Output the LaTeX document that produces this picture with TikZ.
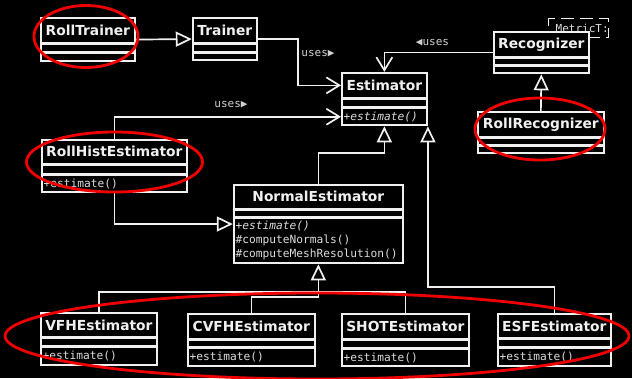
\documentclass[tikz,border=0pt]{standalone}
\usepackage{fontspec}
\setmainfont{DejaVu Sans}
\setmonofont{DejaVu Sans Mono}
\usetikzlibrary{arrows.meta,fit,calc}
\definecolor{fg}{HTML}{F0F0F0}
\definecolor{txt}{HTML}{DCDCDC}
\definecolor{lbl}{HTML}{D0D0D0}
\definecolor{markred}{HTML}{F00000}
\tikzset{
  clsbox/.style={draw=fg, fill=black, line width=1.7pt, inner sep=0pt, text=fg,
    font=\bfseries\fontsize{13.8}{16}\selectfont},
  opstext/.style={inner sep=0pt, text=txt, align=left, anchor=west,
    font=\ttfamily\fontsize{11.2}{14}\selectfont},
  conn/.style={draw=fg, line width=1.7pt},
  inh/.style={conn, -{Triangle[open, length=16pt, width=15pt, line width=1.7pt]}},
  uses/.style={conn, -{Straight Barb[length=13pt, width=16pt, line width=1.7pt]}},
  lab/.style={inner sep=0pt, text=lbl, font=\ttfamily\fontsize{11}{12}\selectfont},
  redmark/.style={draw=markred, line width=2.8pt},
}
% name, x, y, width, header h, attr h, ops h, title, ops text
\newcommand\umlclass[9]{%
  \node[clsbox, minimum width=#4pt, minimum height=#5pt, anchor=north west] (#1-h) at (#2,#3) {#8};
  \node[clsbox, minimum width=#4pt, minimum height=#6pt, anchor=north west] (#1-a) at (#1-h.south west) {};
  \node[clsbox, minimum width=#4pt, minimum height=#7pt, anchor=north west] (#1-o) at (#1-a.south west) {};
  \node[opstext] (#1-t) at ($(#1-o.west)+(2.5,0)$) {#9};
  \node[fit=(#1-h)(#1-o), inner sep=0pt] (#1) {};
}
\begin{document}
\begin{tikzpicture}[x=1pt,y=-1pt]
\useasboundingbox (0,0) rectangle (632,378);
\fill[black] (0,0) rectangle (632,378);

% template box (behind Recognizer)
\node[draw=fg, line width=1.4pt, dash pattern=on 13pt off 6pt, fill=black,
  minimum width=60pt, minimum height=19pt, anchor=north west, inner sep=0pt] (metric) at (548,18) {};
\node[lab, text=txt, anchor=east, font=\ttfamily\fontsize{11}{12}\selectfont] (metrictxt) at ($(metric.east)+(-0.5,0)$) {MetricT:};

\umlclass{rolltrainer}{40}{17}{94}{25}{7}{8}{RollTrainer}{}
\umlclass{trainer}{192}{17}{64}{25}{7}{7}{Trainer}{}
\umlclass{estimator}{341}{72}{85}{25}{7}{17}{Estimator}{\itshape +estimate()}
\umlclass{recognizer}{493}{31}{95}{25}{6}{7}{Recognizer}{}
\umlclass{rollrecog}{477}{111}{126}{25}{6}{7}{RollRecognizer}{}
\umlclass{rollhist}{41}{139}{145}{24}{8}{17}{RollHistEstimator}{+estimate()}
\umlclass{normal}{233}{184}{169}{24}{6}{45}{NormalEstimator}{\textit{+estimate()}\\\#computeNormals()\\\#computeMeshResolution()}
\umlclass{vfh}{40}{312}{116}{24}{7}{18}{VFHEstimator}{+estimate()}
\umlclass{cvfh}{187}{313}{127}{25}{6}{18}{CVFHEstimator}{+estimate()}
\umlclass{shot}{341}{313}{127}{25}{7}{17}{SHOTEstimator}{+estimate()}
\umlclass{esf}{497}{313}{113}{24}{7}{18}{ESFEstimator}{+estimate()}

% connectors
\draw[inh] (rolltrainer.east) -- (trainer.west);
\draw[uses] (trainer.east) -| ($(estimator-h.west)+(-43,0)$) -- (estimator-h.west);
\draw[uses] (rollhist.north) |- (estimator-o.west);
\draw[uses] (recognizer.west) -| (estimator.north);
\draw[inh] (rollrecog.north) -- (recognizer.south);
\draw[inh] (rollhist.south) |- (normal.west);
\draw[inh] (normal.north) -- ++(0,-31) -| (estimator.south);
\draw[inh] (esf.north) -- ++(0,-26) -| (estimator.south east);
\coordinate (junction) at ($(normal.south)+(0,28)$);
\draw[conn] (vfh.north) |- (junction) -| (shot.north);
\draw[inh] (cvfh.north) -- ++(0,-16) -| (normal.south);

% labels
\node[lab] (l1) at (318,54) {uses▶};
\node[lab] (l2) at (231,105) {uses▶};
\node[lab] (l3) at (432.5,43) {◀uses};

% red highlight ellipses
\draw[redmark] (86,36.5) ellipse [x radius=52pt, y radius=31pt];
\draw[redmark] (114.5,162) ellipse [x radius=88pt, y radius=30pt];
\draw[redmark] (540,129) ellipse [x radius=65pt, y radius=31pt];
\draw[redmark] (317,336) ellipse [x radius=312pt, y radius=43pt];
\end{tikzpicture}
\end{document}
